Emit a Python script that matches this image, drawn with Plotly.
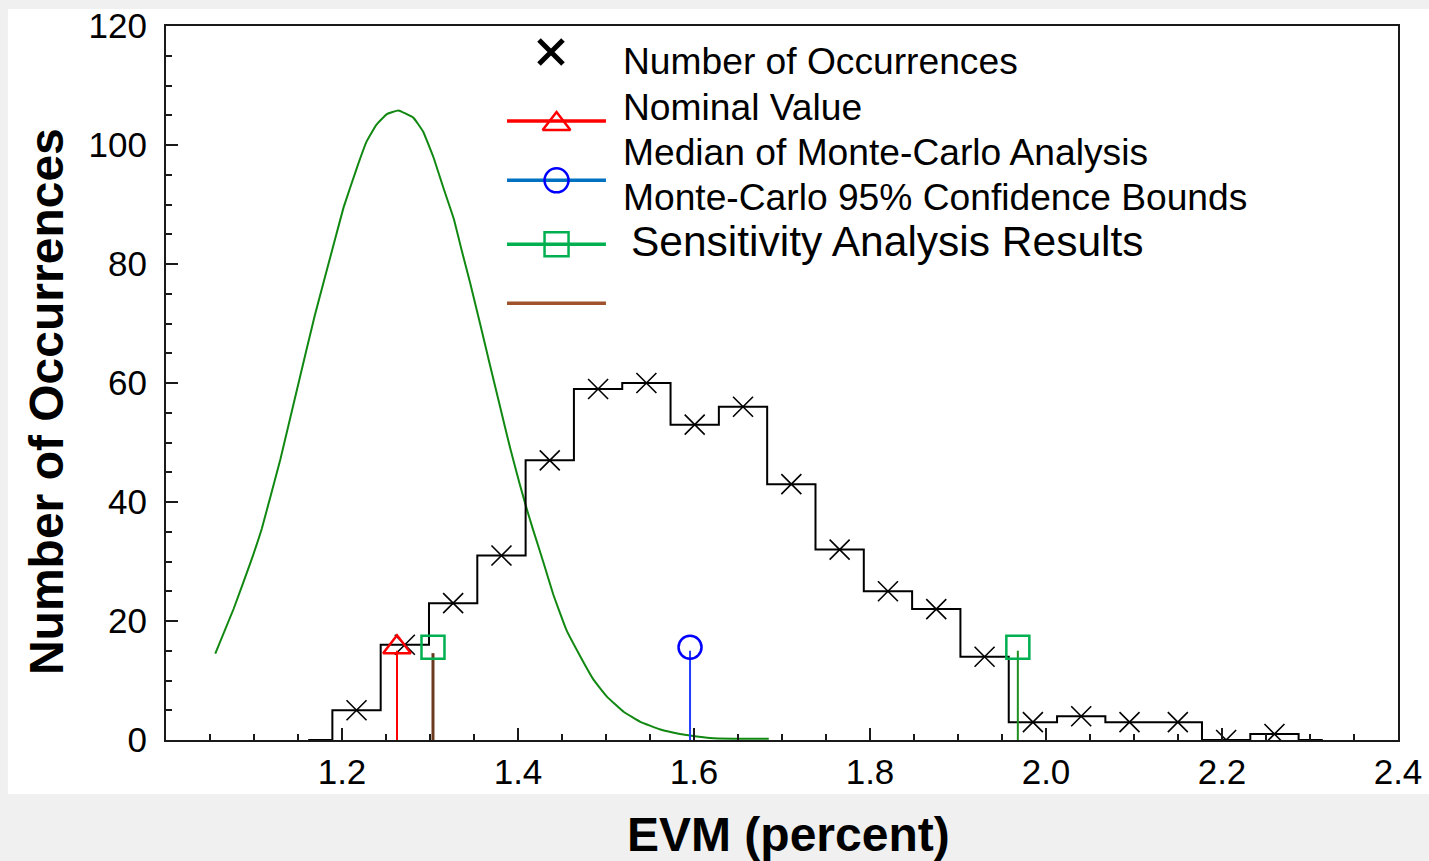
import plotly.graph_objects as go

# ---- Monte-Carlo histogram of EVM (20 bins) ----
bin_centers = [1.2165, 1.2714, 1.3263, 1.3812, 1.4361, 1.4910, 1.5459, 1.6008,
               1.6557, 1.7106, 1.7655, 1.8204, 1.8753, 1.9302, 1.9851, 2.0400,
               2.0949, 2.1498, 2.2047, 2.2596]
counts = [5, 16, 23, 31, 47, 59, 60, 53, 56, 43, 32, 25, 22, 14, 3, 4, 3, 3, 0, 1]
bin_width = 0.0549

# ---- Sensitivity-analysis distribution curve ----
curve_x = [1.056, 1.077, 1.096, 1.109, 1.130, 1.149, 1.169, 1.192, 1.202, 1.217,
           1.228, 1.239, 1.251, 1.264, 1.281, 1.292, 1.304, 1.315, 1.327, 1.336,
           1.346, 1.357, 1.368, 1.380, 1.391, 1.402, 1.410, 1.417, 1.429, 1.440,
           1.455, 1.471, 1.486, 1.501, 1.520, 1.539, 1.561, 1.584, 1.599, 1.618,
           1.645, 1.685]
curve_y = [14.5, 22.1, 29.8, 35.6, 47.2, 59.0, 71.3, 84.1, 89.6, 96.2,
           100.6, 103.4, 105.2, 105.8, 104.6, 102.3, 97.9, 92.9, 87.6, 82.3,
           76.6, 69.9, 63.1, 55.8, 49.1, 43.0, 38.8, 35.4, 29.8, 24.5,
           18.5, 14.0, 10.1, 7.3, 4.75, 3.05, 1.8, 1.0, 0.67, 0.34,
           0.22, 0.2]

# ---- Reference values shown as stems ----
nominal_evm = 1.2625
median_evm = 1.5955
sens_low = 1.3034
sens_high = 1.968
stem_top = 15.0
brown_stem_top = 14.6
marker_level = 15.6

x_tick_vals = [1.2, 1.4, 1.6, 1.8, 2.0, 2.2, 2.4]
x_tick_text = ["1.2", "1.4", "1.6", "1.8", "2.0", "2.2", "2.4"]
y_tick_vals = [0, 20, 40, 60, 80, 100, 120]

legend_labels = ["Number of Occurrences", "Nominal Value", "Median of Monte-Carlo Analysis",
                 "Monte-Carlo 95% Confidence Bounds", " Sensitivity Analysis Results"]

FONT = "Liberation Sans, Arial, sans-serif"

fig = go.Figure()

# distribution curve
fig.add_trace(go.Scatter(x=curve_x, y=curve_y, mode="lines",
                         line=dict(color="#118811", width=2, shape="spline", smoothing=0.3),
                         hoverinfo="skip", showlegend=False))

# histogram outline as a step line (closed to zero half a bin beyond each end)
step_x = [bin_centers[0] - bin_width] + bin_centers + [bin_centers[-1] + bin_width]
step_y = [0] + counts + [0]
fig.add_trace(go.Scatter(x=step_x, y=step_y, mode="lines",
                         line=dict(color="black", width=2, shape="hvh"),
                         showlegend=False))
fig.add_trace(go.Scatter(x=bin_centers, y=counts, mode="markers",
                         marker=dict(symbol="x-thin", size=20, color="black",
                                     line=dict(color="black", width=1.6)),
                         showlegend=False))

# stems
fig.add_trace(go.Scatter(x=[nominal_evm, nominal_evm], y=[0, stem_top], mode="lines",
                         line=dict(color="#ff0000", width=2), showlegend=False))
fig.add_trace(go.Scatter(x=[median_evm, median_evm], y=[0, stem_top], mode="lines",
                         line=dict(color="#1f3cff", width=2), showlegend=False))
fig.add_trace(go.Scatter(x=[sens_low, sens_low], y=[0, brown_stem_top], mode="lines",
                         line=dict(color="#6b3a1e", width=3), showlegend=False))
fig.add_trace(go.Scatter(x=[sens_high, sens_high], y=[0, stem_top], mode="lines",
                         line=dict(color="#1f8f1f", width=2), showlegend=False))

# stem heads
fig.add_trace(go.Scatter(x=[nominal_evm], y=[marker_level], mode="markers",
                         marker=dict(symbol="triangle-up-open", size=24, color="#ff0000",
                                     line=dict(width=2.5)),
                         showlegend=False))
fig.add_trace(go.Scatter(x=[median_evm], y=[marker_level], mode="markers",
                         marker=dict(symbol="circle-open", size=23, color="#0000ff",
                                     line=dict(width=2.5)),
                         showlegend=False))
fig.add_trace(go.Scatter(x=[sens_low, sens_high], y=[marker_level, marker_level], mode="markers",
                         marker=dict(symbol="square-open", size=23, color="#00b050",
                                     line=dict(width=2.5)),
                         showlegend=False))

# ---- hand-built legend on an overlay axis spanning the plot area (0..1) ----
lx0, lx1, lsym = 0.2768, 0.3571, 0.317
leg_rows = [
    # (line colour, symbol, symbol colour, row y, symbol y)
    ("#ff0000", "triangle-up-open", "#ff0000", 0.8669, 0.8627),
    ("#0070c0", "circle-open", "#0000ff", 0.7839, 0.7839),
    ("#00b050", "square-open", "#00b050", 0.6943, 0.6943),
    ("#a0522d", None, None, 0.6116, 0.6116),
]
fig.add_trace(go.Scatter(x=[0.3125], y=[0.9636], mode="markers", xaxis="x2", yaxis="y2",
                         marker=dict(symbol="x-thin", size=24, color="black",
                                     line=dict(color="black", width=5)),
                         showlegend=False, hoverinfo="skip"))
for lc, sym, sc, ry, sy in leg_rows:
    fig.add_trace(go.Scatter(x=[lx0, lx1], y=[ry, ry], mode="lines", xaxis="x2", yaxis="y2",
                             line=dict(color=lc, width=3.5), showlegend=False, hoverinfo="skip"))
    if sym:
        fig.add_trace(go.Scatter(x=[lsym], y=[sy], mode="markers", xaxis="x2", yaxis="y2",
                                 marker=dict(symbol=sym, size=24, color=sc, line=dict(width=2.5)),
                                 showlegend=False, hoverinfo="skip"))

text_ys = [0.9510, 0.8870, 0.8240, 0.7609, 0.6975]
annotations = []
for i, (lab, ty) in enumerate(zip(legend_labels, text_ys)):
    big = i == len(legend_labels) - 1
    annotations.append(dict(
        x=0.3695 if not big else 0.3762, y=ty, xref="paper", yref="paper",
        text=lab.strip(), showarrow=False, xanchor="left", yanchor="middle",
        font=dict(family=FONT, size=42.5 if big else 37.2, color="black")))

# axis titles
annotations.append(dict(x=-0.097, y=0.474, xref="paper", yref="paper",
                        text="<b>Number of Occurrences</b>", textangle=-90, showarrow=False,
                        xanchor="center", yanchor="middle",
                        font=dict(family=FONT, size=48, color="black")))
annotations.append(dict(x=0.5049, y=-0.133, xref="paper", yref="paper",
                        text="<b>EVM (percent)</b>", showarrow=False,
                        xanchor="center", yanchor="middle",
                        font=dict(family=FONT, size=48, color="black")))

fig.update_layout(
    width=1429, height=861,
    margin=dict(l=166, r=31, t=26, b=121, pad=0, autoexpand=False),
    paper_bgcolor="#f0f0f0", plot_bgcolor="white",
    font=dict(family=FONT, color="black"),
    showlegend=False,
    annotations=annotations,
    shapes=[dict(type="rect", xref="paper", yref="paper",
                 x0=-0.1283, x1=1.03, y0=-0.0756, y1=1.0238,
                 fillcolor="white", line=dict(width=0), layer="below")],
    xaxis=dict(range=[1.0, 2.4], tickmode="array", tickvals=x_tick_vals, ticktext=x_tick_text,
               ticks="inside", ticklen=12, tickwidth=2, tickcolor="#1a1a1a",
               minor=dict(tickmode="linear", tick0=1.0, dtick=0.05, ticks="inside",
                          ticklen=6, tickwidth=1.5, tickcolor="#1a1a1a"),
               showline=True, linecolor="#1a1a1a", linewidth=2, mirror=True,
               showgrid=False, zeroline=False, ticklabelstandoff=0, automargin=False,
               tickfont=dict(family=FONT, size=35, color="black")),
    yaxis=dict(range=[0, 120], tickmode="array", tickvals=y_tick_vals,
               ticks="inside", ticklen=12, tickwidth=2, tickcolor="#1a1a1a",
               minor=dict(tickmode="linear", tick0=0, dtick=5, ticks="inside",
                          ticklen=6, tickwidth=1.5, tickcolor="#1a1a1a"),
               showline=True, linecolor="#1a1a1a", linewidth=2, mirror=True,
               showgrid=False, zeroline=False, ticklabelstandoff=10, automargin=False,
               tickfont=dict(family=FONT, size=35, color="black")),
    xaxis2=dict(overlaying="x", range=[0, 1], visible=False, fixedrange=True),
    yaxis2=dict(overlaying="y", range=[0, 1], visible=False, fixedrange=True),
)

fig.write_html("out.html")
